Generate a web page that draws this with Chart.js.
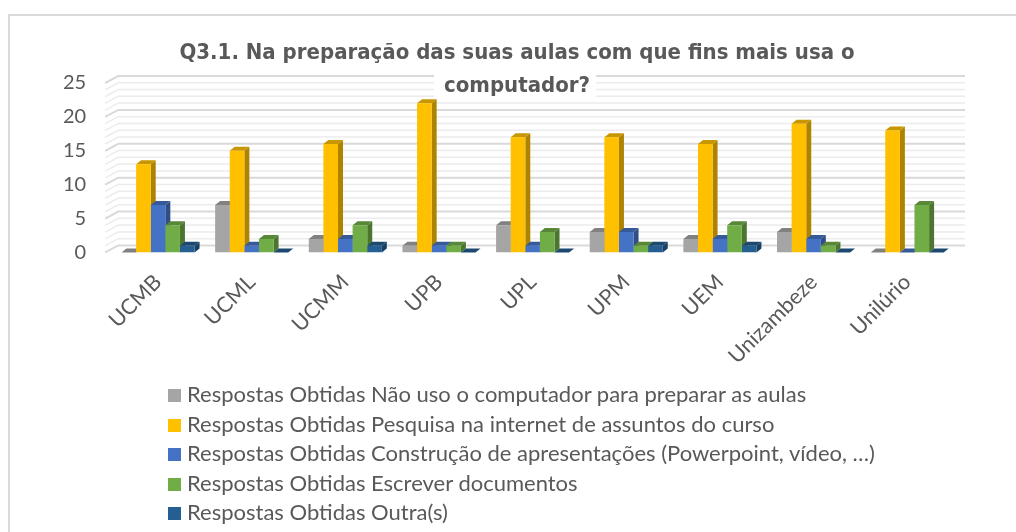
<!DOCTYPE html>
<html lang="pt">
<head>
<meta charset="utf-8">
<title>Q3.1</title>
<script src="https://cdn.jsdelivr.net/npm/chart.js@4.4.1/dist/chart.umd.min.js"></script>
<style>
  html, body { margin: 0; padding: 0; background: #fff; overflow: hidden; width: 1016px; height: 532px; }
  #moldura { position: absolute; left: 8px; top: 14px; width: 1100px; height: 600px; border: 2px solid #d9d9d9; }
  #grafico { position: absolute; left: 0; top: 0; }
  #legenda { position: absolute; left: 168px; top: 379px; font: 22px Lato, sans-serif; color: #595959; }
  #legenda div { height: 29.5px; line-height: 29.5px; white-space: nowrap; }
  #legenda span { display: inline-block; width: 13px; height: 13px; margin-right: 6px; vertical-align: 0px; }
</style>
</head>
<body>
<div id="moldura"></div>
<canvas id="grafico" width="1016" height="532"></canvas>
<div id="legenda"></div>
<script>
// dados
const categorias = ['UCMB', 'UCML', 'UCMM', 'UPB', 'UPL', 'UPM', 'UEM', 'Unizambeze', 'Unilúrio'];
const naoUso = [0, 7, 2, 1, 4, 3, 2, 3, 0];
const pesquisa = [13, 15, 16, 22, 17, 17, 16, 19, 18];
const apresentacoes = [7, 1, 2, 1, 1, 3, 2, 2, 0];
const documentos = [4, 2, 4, 1, 3, 1, 4, 1, 7];
const outras = [1, 0, 1, 0, 0, 1, 1, 0, 0];
const yTicks = [0, 5, 10, 15, 20, 25];

const series = [
    { label: 'Respostas Obtidas Não uso o computador para preparar as aulas', data: naoUso, cor: '#A5A5A5' },
    { label: 'Respostas Obtidas Pesquisa na internet de assuntos do curso', data: pesquisa, cor: '#FFC000' },
    { label: 'Respostas Obtidas Construção de apresentações (Powerpoint, vídeo, …)', data: apresentacoes, cor: '#4472C4' },
    { label: 'Respostas Obtidas Escrever documentos', data: documentos, cor: '#70AD47' },
    { label: 'Respostas Obtidas Outra(s)', data: outras, cor: '#255E91' }
];

const tituloLinhas = ['Q3.1. Na preparação das suas aulas com que fins mais usa o', 'computador?'];
const tituloFonte = { family: "'DejaVu Sans Condensed', 'DejaVu Sans', sans-serif", size: 22, weight: 'bold', lineHeight: 1.5 };
const tituloPadTop = 37;
const tituloCentroX = 517;

function escurecer(hex, f) {
    const n = parseInt(hex.slice(1), 16);
    const r = Math.round(((n >> 16) & 255) * f);
    const g = Math.round(((n >> 8) & 255) * f);
    const b = Math.round((n & 255) * f);
    return `rgb(${r},${g},${b})`;
}

// efeito 3D: parede do fundo e faces das barras
const profundidade = {
    id: 'profundidade',
    afterLayout(chart) {
        // o titulo do original nao fica centrado no canvas
        const t = chart.titleBlock;
        const d = tituloCentroX - (t.left + t.right) / 2;
        t.left += d;
        t.right += d;
    },
    beforeDraw(chart) {
        const { ctx, chartArea, scales } = chart;
        const y = scales.y;
        const dx = 13, dy = 7;
        ctx.save();
        for (let v = 0; v <= 25; v++) {
            const py = y.getPixelForValue(v);
            const maior = v % 5 === 0;
            ctx.strokeStyle = maior ? '#d9d9d9' : '#ececec';
            ctx.lineWidth = maior ? 2 : 1.5;
            ctx.beginPath();
            ctx.moveTo(chartArea.left - 6, py);
            ctx.lineTo(chartArea.left - 6 + dx, py - dy);
            ctx.lineTo(chartArea.right + 11, py - dy);
            ctx.stroke();
        }
        // fundo branco atras da segunda linha do titulo
        const t = chart.titleBlock;
        const lh = tituloFonte.size * tituloFonte.lineHeight;
        const cy = tituloPadTop + lh * 1.5;
        ctx.font = `${tituloFonte.weight} ${tituloFonte.size}px ${tituloFonte.family}`;
        const w = ctx.measureText(tituloLinhas[1]).width;
        const cx = (t.left + t.right) / 2;
        ctx.fillStyle = '#fff';
        ctx.fillRect(cx - w / 2 - 10, cy - lh / 2 + 3, w + 16, lh - 6);
        ctx.restore();
    },
    beforeDatasetsDraw(chart) {
        const ctx = chart.ctx;
        const dx = 5, dy = 4;
        ctx.save();
        chart.data.datasets.forEach((ds, i) => {
            const meta = chart.getDatasetMeta(i);
            meta.data.forEach(el => {
                const { x, y, base, width } = el.getProps(['x', 'y', 'base', 'width'], true);
                const l = x - width / 2, r = x + width / 2;
                // lado
                ctx.fillStyle = escurecer(ds.backgroundColor, 0.68);
                ctx.beginPath();
                ctx.moveTo(r, base);
                ctx.lineTo(r + dx, base - dy);
                ctx.lineTo(r + dx, y - dy);
                ctx.lineTo(r, y);
                ctx.closePath();
                ctx.fill();
                // topo
                ctx.fillStyle = escurecer(ds.backgroundColor, 0.78);
                ctx.beginPath();
                ctx.moveTo(l, y);
                ctx.lineTo(r, y);
                ctx.lineTo(r + dx, y - dy);
                ctx.lineTo(l + dx, y - dy);
                ctx.closePath();
                ctx.fill();
            });
        });
        ctx.restore();
    }
};

function criarGrafico() {
    const ctx = document.getElementById('grafico').getContext('2d');
    const chart = new Chart(ctx, {
        type: 'bar',
        data: {
            labels: categorias,
            datasets: series.map(s => ({
                label: s.label,
                data: s.data,
                backgroundColor: s.cor,
                borderWidth: 0,
                categoryPercentage: 0.78,
                barPercentage: 1
            }))
        },
        options: {
            responsive: false,
            animation: false,
            layout: { padding: { left: 38, right: 62, top: 0, bottom: 146 } },
            plugins: {
                legend: { display: false },
                tooltip: { enabled: false },
                title: {
                    display: true,
                    text: tituloLinhas,
                    color: '#595959',
                    font: tituloFonte,
                    padding: { top: tituloPadTop, bottom: -20 }
                }
            },
            scales: {
                x: {
                    grid: { display: false, drawTicks: false },
                    border: { display: false },
                    afterFit: scale => { scale.paddingLeft = 0; scale.paddingRight = 0; },
                    ticks: {
                        color: '#595959',
                        font: { family: 'Lato, sans-serif', size: 21.5 },
                        minRotation: 45,
                        maxRotation: 45,
                        autoSkip: false,
                        padding: 17
                    }
                },
                y: {
                    min: 0,
                    max: 25,
                    grid: { display: false, drawTicks: false },
                    border: { display: false },
                    afterBuildTicks: axis => { axis.ticks = yTicks.map(v => ({ value: v })); },
                    ticks: {
                        color: '#595959',
                        font: { family: 'Lato, sans-serif', size: 20 },
                        autoSkip: false,
                        padding: 25
                    }
                }
            }
        },
        plugins: [profundidade]
    });

    // legenda em lista, como no original
    const leg = document.getElementById('legenda');
    chart.data.datasets.forEach(ds => {
        const linha = document.createElement('div');
        const q = document.createElement('span');
        q.style.background = ds.backgroundColor;
        linha.appendChild(q);
        linha.appendChild(document.createTextNode(ds.label));
        leg.appendChild(linha);
    });
    return chart;
}

document.addEventListener('DOMContentLoaded', evt => criarGrafico());
</script>
</body>
</html>
